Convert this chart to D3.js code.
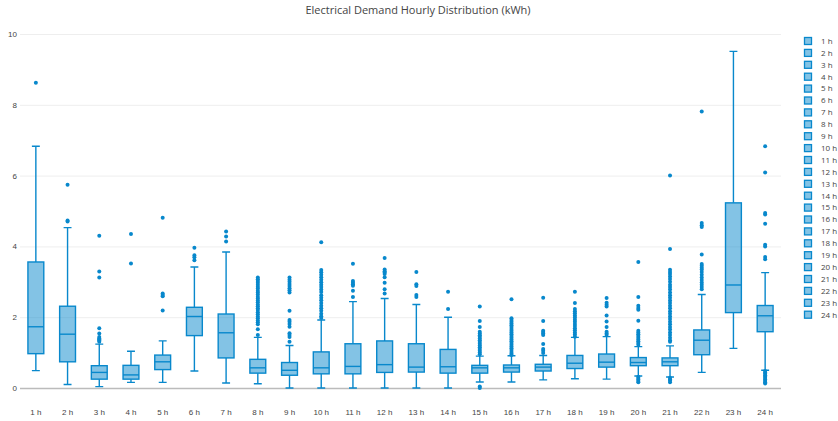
<!DOCTYPE html>
<html>
<head>
<meta charset="utf-8">
<script src="https://cdn.jsdelivr.net/npm/d3@7/dist/d3.min.js"></script>
<style>
  html, body { margin: 0; padding: 0; background: #fff; }
  svg { display: block; font-family: "Open Sans", "DejaVu Sans", sans-serif; }
</style>
</head>
<body>
<svg id="chart" width="838" height="421"></svg>
<script>
const title = "Electrical Demand Hourly Distribution (kWh)";
const categories = ["1 h","2 h","3 h","4 h","5 h","6 h","7 h","8 h","9 h","10 h","11 h","12 h",
  "13 h","14 h","15 h","16 h","17 h","18 h","19 h","20 h","21 h","22 h","23 h","24 h"];
const lowerFence = [0.49,0.10,0.04,0.16,0.16,0.48,0.14,0.12,0.00,0.00,0.00,0.00,
  0.00,0.00,0.17,0.17,0.23,0.26,0.25,0.34,0.31,0.44,1.12,0.50];
const q1 = [0.97,0.74,0.25,0.25,0.52,1.48,0.85,0.42,0.36,0.40,0.40,0.44,
  0.45,0.42,0.42,0.45,0.48,0.55,0.59,0.63,0.63,0.94,2.13,1.59];
const median = [1.73,1.52,0.44,0.37,0.74,2.02,1.56,0.57,0.50,0.57,0.61,0.66,
  0.59,0.60,0.57,0.57,0.59,0.70,0.73,0.72,0.74,1.35,2.91,2.04];
const q3 = [3.56,2.31,0.63,0.64,0.93,2.28,2.09,0.81,0.72,1.02,1.25,1.33,
  1.25,1.09,0.64,0.65,0.67,0.92,0.96,0.86,0.85,1.64,5.23,2.33];
const upperFence = [6.83,4.53,1.24,1.04,1.33,3.42,3.84,1.43,1.20,1.92,2.44,2.53,
  2.36,2.00,0.90,0.91,0.92,1.43,1.45,1.17,1.19,2.64,9.51,3.26];
const outliers = [
  [8.62],
  [5.74,4.73,4.70],
  [4.30,3.29,3.12,1.69,1.54,1.44,1.40,1.37,1.34,1.31],
  [4.35,3.52],
  [4.81,2.67,2.63,2.59,2.19],
  [3.96,3.75,3.69,3.61],
  [4.42,4.28,4.14],
  [3.12,3.07,3.02,2.97,2.92,2.86,2.81,2.75,2.70,2.64,2.58,2.53,2.47,2.42,2.36,2.31,2.25,2.20,2.14,2.08,2.02,1.97,1.91,1.86,1.80,1.66,1.50],
  [3.12,3.06,3.00,2.94,2.88,2.82,2.76,2.70,2.18,1.92,1.87,1.81,1.73,1.55,1.50,1.44,1.31],
  [4.12,3.33,3.27,3.20,3.13,3.06,2.99,2.92,2.85,2.78,2.71,2.62,2.55,2.48,2.40,2.32,2.25,2.18,2.10,2.03,1.98],
  [3.51,3.02,2.97,2.93,2.89,2.75,2.57],
  [3.67,3.35,3.30,3.26,3.22,3.13,2.97,2.79,2.67],
  [3.28,2.93,2.88,2.63,2.57],
  [2.72,2.23],
  [2.30,1.89,1.72,1.59,1.54,1.49,1.45,1.40,1.35,1.30,1.25,1.20,1.15,1.10,1.05,1.00,0.95,0.04,0.00],
  [2.51,1.97,1.92,1.87,1.82,1.77,1.72,1.67,1.62,1.57,1.52,1.47,1.42,1.37,1.32,1.27,1.22,1.17,1.12,1.07,1.02,0.97,0.93],
  [2.55,1.89,1.62,1.58,1.54,1.50,1.24,1.10,1.05,0.99],
  [2.72,2.40,2.23,2.17,2.11,2.05,1.99,1.93,1.87,1.81,1.75,1.69,1.63,1.57,1.51,1.45],
  [2.54,2.41,2.35,2.30,2.05,1.88,1.72,1.59,1.54,1.50],
  [3.56,2.57,2.32,2.26,2.21,1.90,1.62,1.57,1.52,1.47,1.42,1.37,1.32,1.27,1.22,0.32,0.28,0.24,0.20,0.16],
  [6.00,3.93,3.34,3.28,3.22,3.15,3.08,3.00,2.92,2.85,2.78,2.70,2.62,2.55,2.47,2.40,2.32,2.25,2.17,2.10,2.02,1.95,1.87,1.80,1.72,1.65,1.57,1.50,1.42,1.35,1.31,0.29,0.25,0.21,0.16],
  [7.81,4.66,4.60,4.55,3.77,3.50,3.45,3.40,3.35,3.28,3.20,3.12,3.05,2.98,2.92,2.85,2.79],
  [],
  [6.83,6.09,4.94,4.90,4.64,4.05,4.00,3.70,3.64,0.48,0.44,0.40,0.36,0.32,0.28,0.24,0.20,0.16,0.13]
];
const yTicks = [0,2,4,6,8,10];

const lineColor = "rgb(8,136,204)";
const svg = d3.select("#chart");
const W = 838, H = 421;
const plot = {left: 20, right: 781, top: 22, bottom: 400};

const x = d3.scaleBand().domain(categories).range([plot.left, plot.right]).padding(0);
const y = d3.scaleLinear().domain([0, 10]).range([388, 34]);

// title
svg.append("text")
  .attr("x", 418).attr("y", 14)
  .attr("text-anchor", "middle")
  .attr("fill", "#444")
  .style("font-size", "11px")
  .text(title);

// y axis grid + labels
const yAxis = d3.axisLeft(y).tickValues(yTicks).tickSize(-(plot.right - plot.left)).tickPadding(3).tickFormat(d3.format("d"));
const gy = svg.append("g").attr("transform", `translate(${plot.left},0)`).call(yAxis);
gy.select(".domain").remove();
gy.selectAll(".tick line").attr("stroke", "#eee").attr("stroke-width", 1);
gy.selectAll(".tick text").attr("fill", "#444").style("font-size", "8px").attr("font-family", null);
gy.selectAll(".tick").filter(d => d === 0).select("line").attr("stroke", "#bbb").attr("stroke-width", 1.6);

// x axis labels
const xAxis = d3.axisBottom(x).tickSize(0).tickPadding(0);
const gx = svg.append("g").attr("transform", `translate(0,409)`).call(xAxis);
gx.select(".domain").remove();
gx.selectAll(".tick text").attr("fill", "#444").style("font-size", "8px").attr("font-family", null).attr("dy", "0.71em");

// boxes
const boxW = x.bandwidth() * 0.5;
const capW = boxW * 0.5;
const g = svg.append("g");
categories.forEach((c, i) => {
  const cx = x(c) + x.bandwidth() / 2;
  const gg = g.append("g");
  // whiskers
  const wpath = d3.path();
  wpath.moveTo(cx, y(q3[i])); wpath.lineTo(cx, y(upperFence[i]));
  wpath.moveTo(cx - capW / 2, y(upperFence[i])); wpath.lineTo(cx + capW / 2, y(upperFence[i]));
  wpath.moveTo(cx, y(q1[i])); wpath.lineTo(cx, y(lowerFence[i]));
  wpath.moveTo(cx - capW / 2, y(lowerFence[i])); wpath.lineTo(cx + capW / 2, y(lowerFence[i]));
  gg.append("path").attr("d", wpath.toString()).attr("fill", "none")
    .attr("stroke", lineColor).attr("stroke-width", 1.4);
  gg.append("rect")
    .attr("x", cx - boxW / 2).attr("width", boxW)
    .attr("y", y(q3[i])).attr("height", y(q1[i]) - y(q3[i]))
    .attr("fill", lineColor).attr("fill-opacity", 0.5)
    .attr("stroke", lineColor).attr("stroke-width", 1.4);
  gg.append("line")
    .attr("x1", cx - boxW / 2).attr("x2", cx + boxW / 2)
    .attr("y1", y(median[i])).attr("y2", y(median[i]))
    .attr("stroke", lineColor).attr("stroke-width", 1.4);
  gg.selectAll("circle").data(outliers[i]).join("circle")
    .attr("cx", cx).attr("cy", d => y(d)).attr("r", 2)
    .attr("fill", lineColor);
});

// legend
const lg = svg.append("g");
categories.forEach((c, i) => {
  const ly = 41 + i * 11.9;
  lg.append("rect")
    .attr("x", 804.5).attr("y", ly - 3.5).attr("width", 7).attr("height", 7)
    .attr("fill", lineColor).attr("fill-opacity", 0.5)
    .attr("stroke", lineColor).attr("stroke-width", 1.3);
  lg.append("text")
    .attr("x", 821).attr("y", ly).attr("dy", "0.35em")
    .attr("fill", "#444").style("font-size", "8px")
    .text(c);
});
</script>
</body>
</html>
